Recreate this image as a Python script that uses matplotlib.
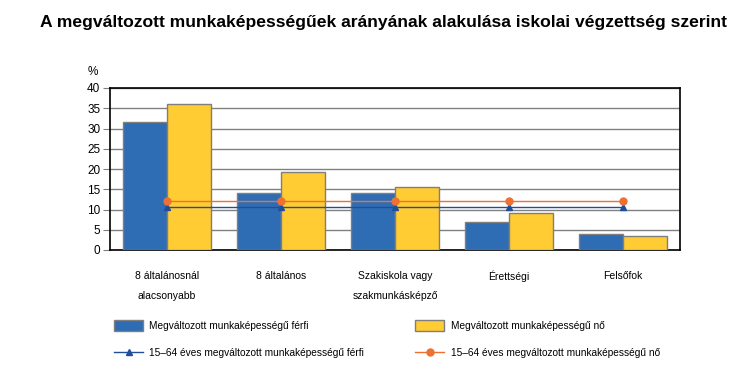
import matplotlib
matplotlib.use("Agg")
import matplotlib.pyplot as plt
import numpy as np
from matplotlib.patches import Patch
from matplotlib.lines import Line2D

plt.rcParams['font.family'] = ['Liberation Sans', 'DejaVu Sans']

categories = ["8 általánosnál\nalacsonyabb", "8 általános", "Szakiskola vagy\nszakmunkásképző", "Érettségi", "Felsőfok"]
male = [31.5, 14.0, 14.0, 6.8, 3.9]
female = [36.0, 19.2, 15.5, 9.1, 3.4]
male_avg = [10.6, 10.6, 10.6, 10.6, 10.6]
female_avg = [12.1, 12.1, 12.1, 12.1, 12.1]
yticks = [0, 5, 10, 15, 20, 25, 30, 35, 40]

c_blue = "#2E6DB4"
c_yellow = "#FFCC33"
c_line_blue = "#1F4E9A"
c_orange = "#F07030"
edge = "#7F7F7F"

fig = plt.figure(figsize=(7.47, 3.87), dpi=100)
ax = fig.add_axes([110/747, 1-250/387, 570/747, 162/387])

x = np.arange(len(categories))
w = 0.39
ax.bar(x - w/2, male, width=w, color=c_blue, edgecolor=edge, linewidth=1, zorder=3)
ax.bar(x + w/2, female, width=w, color=c_yellow, edgecolor=edge, linewidth=1, zorder=3)
ax.plot(x, male_avg, color=c_line_blue, linewidth=1.0, marker='^', markersize=5, zorder=4)
ax.plot(x, female_avg, color=c_orange, linewidth=1.0, marker='o', markersize=5, zorder=5)

ax.set_xlim(-0.5, len(categories) - 0.5)
ax.set_ylim(0, 40)
ax.set_yticks(yticks)
ax.yaxis.grid(True, color="#808080", linewidth=1, zorder=0)
ax.set_axisbelow(True)
ax.tick_params(axis='y', length=5, color="#808080", labelsize=8.5, pad=2)
ax.tick_params(axis='x', length=0, labelsize=7.5, pad=15)
ax.set_xticks(x)
ax.set_xticklabels(categories, linespacing=2.3, va='top')
for s in ax.spines.values():
    s.set_color('black')
    s.set_linewidth(1.2)

fig.text(88/747, 1-72/387, "%", fontsize=8.5, ha='left', va='center')
fig.text(40/747, 1-22/387, "A megváltozott munkaképességűek arányának alakulása iskolai végzettség szerint",
         fontsize=12.6, fontweight='bold', ha='left', va='center')

handles = [
    Patch(facecolor=c_blue, edgecolor=edge),
    Line2D([0], [0], color=c_line_blue, marker='^', markersize=5, linewidth=1.0),
    Patch(facecolor=c_yellow, edgecolor=edge),
    Line2D([0], [0], color=c_orange, marker='o', markersize=5, linewidth=1.0),
]
labels = [
    "Megváltozott munkaképességű férfi",
    "15–64 éves megváltozott munkaképességű férfi",
    "Megváltozott munkaképességű nő",
    "15–64 éves megváltozott munkaképességű nő",
]
fig.legend(handles, labels, ncol=2, loc='upper left', bbox_to_anchor=(114/747, 1-320/387),
           frameon=False, fontsize=7.3, handlelength=2.9, handleheight=1.3, handletextpad=0.6,
           columnspacing=5.0, labelspacing=1.6, borderaxespad=0, borderpad=0)

fig.savefig("out.png", dpi=100)
